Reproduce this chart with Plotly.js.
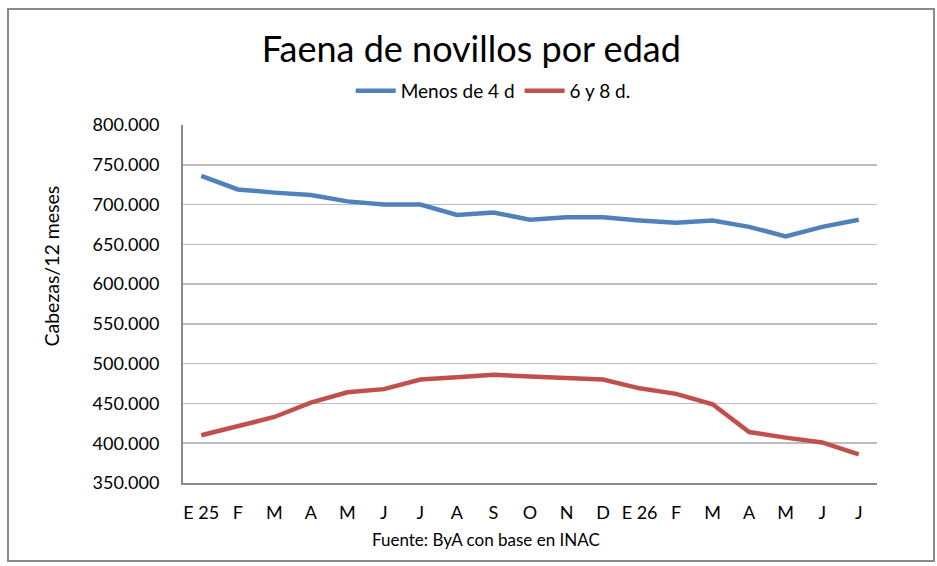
<!DOCTYPE html>
<html>
<head>
<meta charset="utf-8">
<script src="https://cdn.plot.ly/plotly-3.0.1.min.js"></script>
<style>
  body { margin: 0; background: #fff; }
  #wrap { position: relative; width: 937px; height: 566px; }
  #frame { position: absolute; left: 7px; top: 8px; width: 924px; height: 550px;
           border: 2px solid #8a8a8a; pointer-events: none; }
</style>
</head>
<body>
<div id="wrap">
  <div id="chart" style="width:937px;height:566px;"></div>
  <div id="frame"></div>
</div>
<script>
// meses, enero 2025 a julio 2026
var months = ['E 25', 'F', 'M', 'A', 'M', 'J', 'J', 'A', 'S', 'O', 'N', 'D',
              'E 26', 'F', 'M', 'A', 'M', 'J', 'J'];

// faena acumulada 12 meses, cabezas
var menos4d = [736000, 719000, 715000, 712000, 704000, 700000, 700000, 687000, 690000, 681000,
               684000, 684000, 680000, 677000, 680000, 672000, 660000, 672000, 681000];
var seisY8d = [410000, 421000, 433000, 451000, 464000, 468000, 480000, 483000, 486000, 484000,
               482000, 480000, 469000, 462000, 449000, 414000, 407000, 401000, 386000];

var idx = months.map(function (m, i) { return i; });
var font = 'Lato, "Open Sans", sans-serif';

var data = [
    {
        x: idx,
        y: menos4d,
        name: 'Menos de 4 d',
        type: 'scatter',
        mode: 'lines',
        line: {color: '#4f81bd', width: 4.5}
    },
    {
        x: idx,
        y: seisY8d,
        name: '6 y 8 d.',
        type: 'scatter',
        mode: 'lines',
        line: {color: '#c0504d', width: 4.5}
    }
];

var layout = {
    width: 937,
    height: 566,
    margin: {l: 183, r: 60, t: 125, b: 83},
    paper_bgcolor: '#fff',
    plot_bgcolor: '#fff',
    separators: ',.',
    font: {family: font, color: '#000', size: 18},
    title: {
        text: 'Faena de novillos por edad',
        font: {family: font, size: 36, color: '#000'},
        x: 0.503,
        xanchor: 'center',
        y: 0.912,
        yanchor: 'middle'
    },
    showlegend: true,
    legend: {
        orientation: 'h',
        x: 0.447,
        xanchor: 'center',
        y: 1.095,
        yanchor: 'middle',
        font: {family: font, size: 19},
        itemwidth: 40,
        tracegroupgap: 0
    },
    xaxis: {
        range: [-0.5, 18.5],
        tickmode: 'array',
        tickvals: idx,
        ticktext: months,
        showgrid: false,
        zeroline: false,
        showline: true,
        linecolor: '#8a8a8a',
        linewidth: 2,
        ticks: '',
        ticklabelstandoff: 12,
        tickfont: {family: font, size: 18}
    },
    yaxis: {
        range: [350000, 800000],
        tick0: 350000,
        dtick: 50000,
        tickformat: ',.0f',
        showgrid: true,
        gridcolor: '#bdbdbd',
        gridwidth: 1.5,
        zeroline: false,
        showline: true,
        linecolor: '#8a8a8a',
        linewidth: 2,
        ticks: '',
        ticklabelstandoff: 18,
        tickfont: {family: font, size: 18}
    },
    annotations: [
        {
            text: 'Cabezas/12 meses',
            xref: 'paper',
            yref: 'paper',
            x: -0.19,
            y: 0.605,
            xanchor: 'center',
            yanchor: 'middle',
            textangle: -90,
            showarrow: false,
            font: {family: font, size: 19.5}
        },
        {
            text: 'Fuente: ByA con base en INAC',
            xref: 'paper',
            yref: 'paper',
            x: 0.437,
            y: -0.158,
            xanchor: 'center',
            yanchor: 'middle',
            showarrow: false,
            font: {family: font, size: 17}
        }
    ]
};

Plotly.newPlot('chart', data, layout, {displayModeBar: false, staticPlot: true});
</script>
</body>
</html>
